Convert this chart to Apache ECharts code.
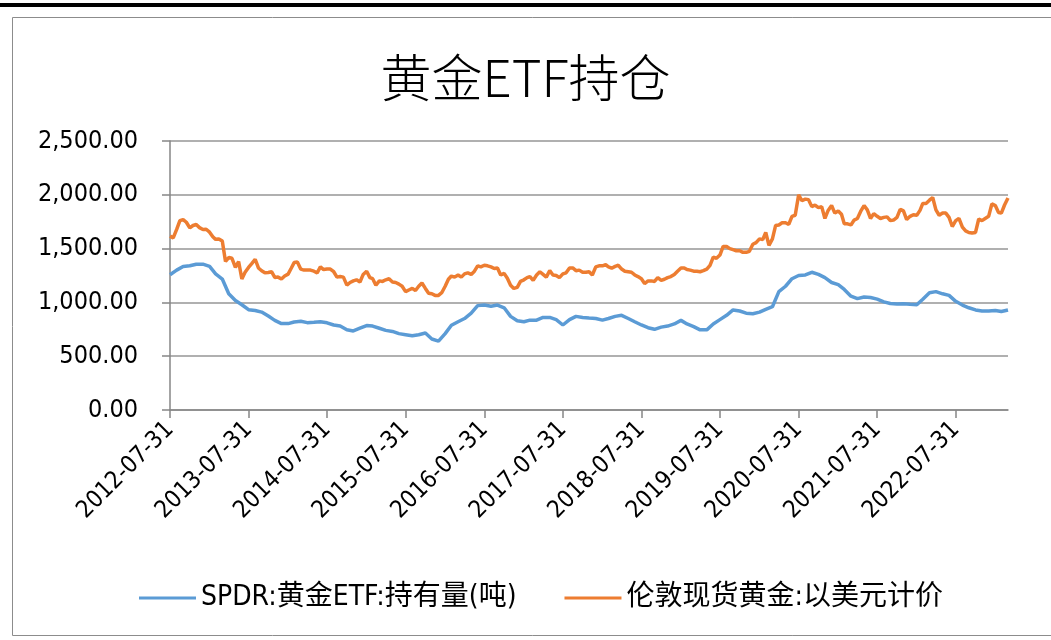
<!DOCTYPE html>
<html>
<head>
<meta charset="utf-8">
<script src="https://cdn.jsdelivr.net/npm/echarts@6/dist/echarts.min.js"></script>
<style>html,body{margin:0;padding:0;background:#fff;}#c{width:1051px;height:640px;}</style>
</head>
<body>
<div id="c"></div>
<script>
const titleText = '黄金ETF持仓';
const seriesNames = ['SPDR:黄金ETF:持有量(吨)', '伦敦现货黄金:以美元计价'];
// month-end dates
const monthEnds = [
  '2012-07-31','2012-08-31','2012-09-30','2012-10-31','2012-11-30','2012-12-31',
  '2013-01-31','2013-02-28','2013-03-31','2013-04-30','2013-05-31','2013-06-30','2013-07-31','2013-08-31','2013-09-30','2013-10-31','2013-11-30','2013-12-31',
  '2014-01-31','2014-02-28','2014-03-31','2014-04-30','2014-05-31','2014-06-30','2014-07-31','2014-08-31','2014-09-30','2014-10-31','2014-11-30','2014-12-31',
  '2015-01-31','2015-02-28','2015-03-31','2015-04-30','2015-05-31','2015-06-30','2015-07-31','2015-08-31','2015-09-30','2015-10-31','2015-11-30','2015-12-31',
  '2016-01-31','2016-02-29','2016-03-31','2016-04-30','2016-05-31','2016-06-30','2016-07-31','2016-08-31','2016-09-30','2016-10-31','2016-11-30','2016-12-31',
  '2017-01-31','2017-02-28','2017-03-31','2017-04-30','2017-05-31','2017-06-30','2017-07-31','2017-08-31','2017-09-30','2017-10-31','2017-11-30','2017-12-31',
  '2018-01-31','2018-02-28','2018-03-31','2018-04-30','2018-05-31','2018-06-30','2018-07-31','2018-08-31','2018-09-30','2018-10-31','2018-11-30','2018-12-31',
  '2019-01-31','2019-02-28','2019-03-31','2019-04-30','2019-05-31','2019-06-30','2019-07-31','2019-08-31','2019-09-30','2019-10-31','2019-11-30','2019-12-31',
  '2020-01-31','2020-02-29','2020-03-31','2020-04-30','2020-05-31','2020-06-30','2020-07-31','2020-08-31','2020-09-30','2020-10-31','2020-11-30','2020-12-31',
  '2021-01-31','2021-02-28','2021-03-31','2021-04-30','2021-05-31','2021-06-30','2021-07-31','2021-08-31','2021-09-30','2021-10-31','2021-11-30','2021-12-31',
  '2022-01-31','2022-02-28','2022-03-31','2022-04-30','2022-05-31','2022-06-30','2022-07-31','2022-08-31','2022-09-30','2022-10-31','2022-11-30','2022-12-31',
  '2023-01-31','2023-02-28','2023-03-31'
];
// x-axis tick labels
const tickLabels = ['2012-07-31','2013-07-31','2014-07-31','2015-07-31','2016-07-31','2017-07-31',
  '2018-07-31','2019-07-31','2020-07-31','2021-07-31','2022-07-31'];
const axisStart = '2012-07-31';
const axisEnd = '2023-03-31';

// SPDR holdings (tonnes) at each month end
const spdrHoldings = [
  1257,1300,1334,1340,1355,1355,
  1334,1265,1217,1080,1018,978,932,925,910,873,833,803,
  803,818,824,812,815,820,810,790,780,745,735,760,
  785,780,760,740,730,710,700,690,700,715,660,640,
  710,787,820,850,900,970,975,965,975,950,870,830,
  820,835,835,860,860,840,790,840,870,860,855,850,
  835,850,870,880,850,820,790,765,750,770,780,800,
  833,800,775,745,745,800,840,880,930,920,900,895,
  910,935,960,1100,1150,1220,1250,1255,1280,1260,1230,1185,
  1165,1120,1058,1035,1050,1045,1030,1005,990,985,988,982,
  978,1030,1090,1100,1080,1065,1010,975,950,930,920,920,
  925,915,930
];
// London spot gold (USD) at each month end
const goldMonthEnd = [
  1616,1678,1770,1693,1724,1678,
  1653,1586,1570,1417,1325,1217,1325,1401,1294,1278,1232,1217,
  1263,1370,1309,1300,1290,1330,1310,1285,1240,1160,1200,1190,
  1290,1220,1200,1210,1190,1170,1100,1130,1150,1130,1080,1065,
  1150,1245,1255,1265,1260,1340,1345,1330,1320,1270,1160,1140,
  1210,1240,1255,1260,1295,1250,1265,1320,1295,1280,1285,1330,
  1340,1330,1335,1310,1285,1255,1220,1200,1195,1205,1230,1260,
  1320,1305,1290,1285,1310,1420,1440,1520,1490,1480,1465,1540,
  1590,1650,1590,1720,1740,1800,2000,1960,1890,1880,1780,1900,
  1850,1730,1720,1780,1900,1780,1800,1790,1760,1790,1850,1800,
  1810,1920,1950,1860,1830,1790,1760,1700,1650,1650,1760,1800,
  1900,1830,1970
];
// London spot gold (USD) in the middle of each month, from 2012-08 on
const goldMidMonth = [
  1600,1760,1745,1715,1695,
  1680,1610,1590,1380,1410,1380,1280,1360,1320,1275,1285,1235,
  1245,1320,1375,1300,1300,1275,1305,1310,1235,1235,1185,1210,
  1260,1230,1160,1195,1220,1185,1150,1115,1110,1180,1085,1065,
  1090,1215,1235,1235,1275,1290,1330,1340,1315,1255,1225,1130,
  1195,1230,1205,1285,1235,1255,1230,1275,1320,1300,1280,1255,
  1340,1350,1318,1345,1290,1280,1240,1175,1200,1230,1215,1240,
  1290,1320,1300,1290,1295,1345,1410,1520,1500,1480,1465,1475,
  1555,1583,1530,1715,1740,1725,1810,1945,1955,1905,1890,1855,
  1830,1820,1730,1765,1845,1860,1825,1780,1795,1765,1865,1770,
  1815,1855,1920,1975,1810,1830,1705,1780,1665,1645,1775,1780,
  1915,1835,1905
];
const yTicks = [0, 500, 1000, 1500, 2000, 2500];

// day number counted from the first date of the axis
function dayNo(s) {
  const p = s.split('-').map(Number);
  const a = axisStart.split('-').map(Number);
  return Math.round((Date.UTC(p[0], p[1] - 1, p[2]) - Date.UTC(a[0], a[1] - 1, a[2])) / 86400000);
}
const spdrData = monthEnds.map((d, i) => [dayNo(d), spdrHoldings[i]]);
const goldData = [[dayNo(monthEnds[0]), goldMonthEnd[0]]];
for (let i = 1; i < monthEnds.length; i++) {
  goldData.push([dayNo(monthEnds[i].slice(0, 8) + '15'), goldMidMonth[i - 1]]);
  goldData.push([dayNo(monthEnds[i]), goldMonthEnd[i]]);
}
const tickDays = tickLabels.map(dayNo);

const FONT = "'DejaVu Sans Condensed','Noto Sans CJK SC',sans-serif";
const chart = echarts.init(document.getElementById('c'), null, {renderer: 'canvas'});
function fmt(v) {
  const s = v.toFixed(2).split('.');
  return s[0].replace(/\B(?=(\d{3})+(?!\d))/g, ',') + '.' + s[1];
}
function fmtDate(v) {
  const i = tickDays.indexOf(Math.round(v));
  return i >= 0 ? tickLabels[i] : '';
}
chart.setOption({
  animation: false,
  backgroundColor: '#fff',
  color: ['#5B9BD5', '#ED7D31'],
  graphic: [
    {type: 'rect', shape: {x: 0, y: 3, width: 1051, height: 4}, style: {fill: '#000'}, silent: true},
    {type: 'rect', shape: {x: 12.5, y: 17.5, width: 1050, height: 618}, style: {fill: 'none', stroke: '#8c8c8c', lineWidth: 1}, silent: true}
  ],
  title: {
    text: titleText, left: 'center', top: 47,
    textStyle: {fontFamily: "'Noto Sans CJK SC',sans-serif", fontSize: 51, fontWeight: 300, color: '#000'}
  },
  legend: {
    left: 134, top: 579, itemGap: 48, itemWidth: 57, itemHeight: 3, icon: 'rect',
    textStyle: {fontFamily: FONT, fontSize: 28, color: '#000'},
    data: seriesNames
  },
  grid: {left: 170, right: 43, top: 141, bottom: 230, containLabel: false},
  xAxis: {
    type: 'value', min: 0, max: dayNo(axisEnd),
    axisLine: {lineStyle: {color: '#868686', width: 1.5}},
    axisTick: {show: true, customValues: tickDays, length: 8, lineStyle: {color: '#868686', width: 1.5}},
    axisLabel: {customValues: tickDays, formatter: fmtDate, rotate: 45, fontFamily: FONT, fontSize: 24, color: '#000', margin: 16},
    splitLine: {show: false}
  },
  yAxis: {
    type: 'value', min: 0, max: 2500, interval: 500,
    axisLine: {show: true, lineStyle: {color: '#868686', width: 1.5}},
    axisTick: {show: true, length: 8, lineStyle: {color: '#868686', width: 1.5}},
    axisLabel: {formatter: fmt, fontFamily: FONT, fontSize: 25, color: '#000', margin: 32},
    splitLine: {lineStyle: {color: '#969696', width: 1.5}}
  },
  series: [
    {name: seriesNames[0], type: 'line', data: spdrData, showSymbol: false, lineStyle: {width: 3.5}},
    {name: seriesNames[1], type: 'line', data: goldData, showSymbol: false, lineStyle: {width: 3.5}}
  ]
});
</script>
</body>
</html>
